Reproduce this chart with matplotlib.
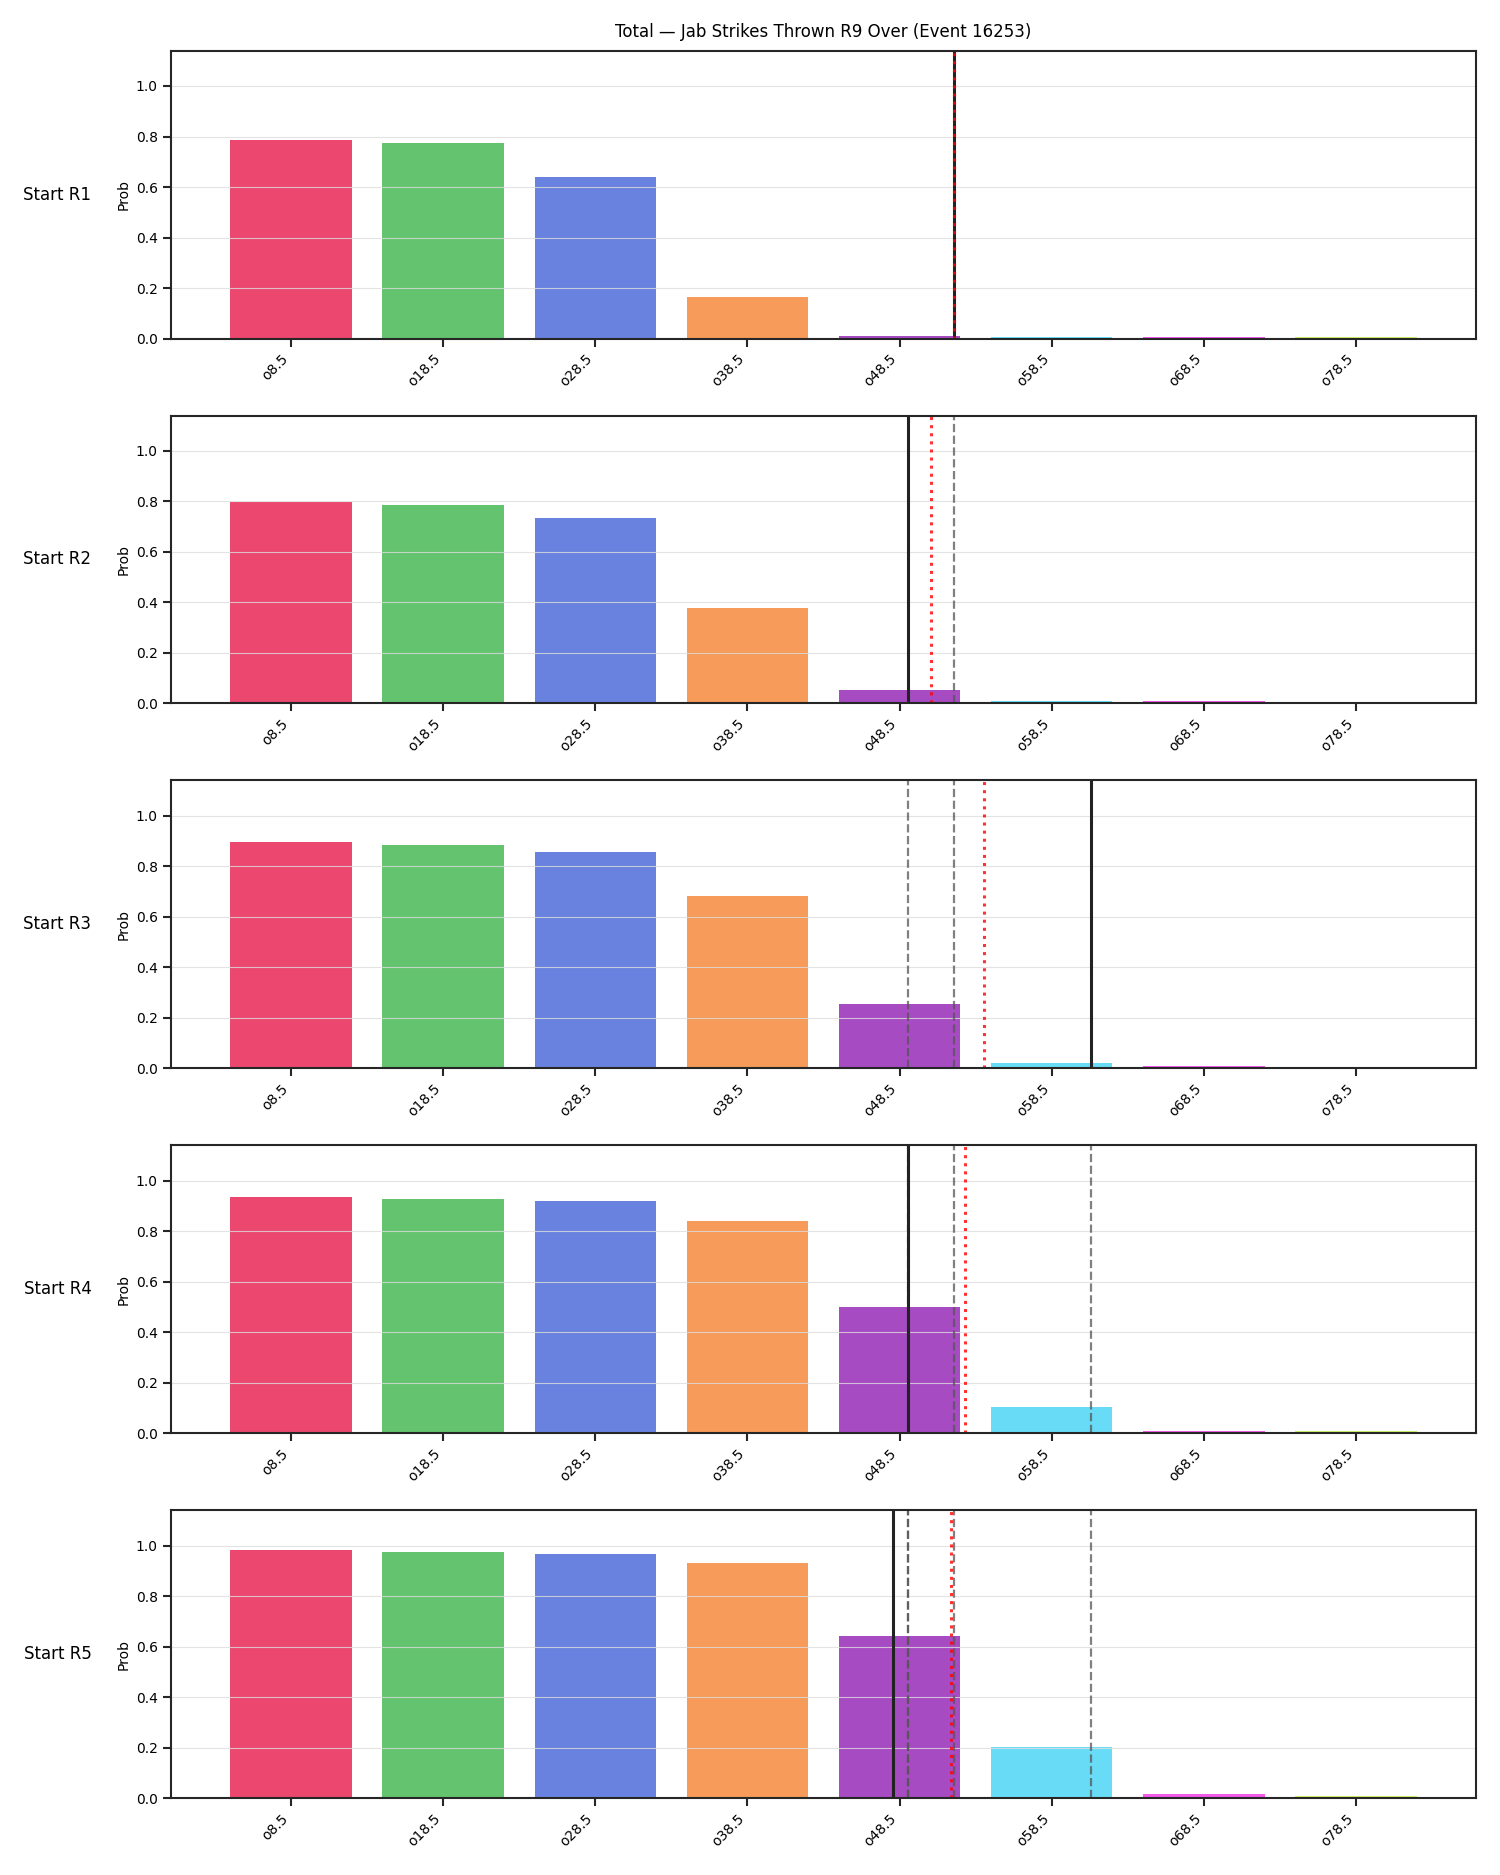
import matplotlib.pyplot as plt
import numpy as np

lines_labels = ["o8.5", "o18.5", "o28.5", "o38.5", "o48.5", "o58.5", "o68.5", "o78.5"]
bar_colors = ["#e6194b", "#3cb44b", "#4363d8", "#f58231",
              "#911eb4", "#42d4f4", "#f032e6", "#bfef45"]
row_names = ["Start R1", "Start R2", "Start R3", "Start R4", "Start R5"]

prob_r1 = [0.787, 0.773, 0.640, 0.166, 0.009, 0.008, 0.008, 0.007]
prob_r2 = [0.796, 0.787, 0.735, 0.379, 0.055, 0.008, 0.008, 0.007]
prob_r3 = [0.896, 0.886, 0.858, 0.682, 0.256, 0.022, 0.008, 0.007]
prob_r4 = [0.934, 0.929, 0.919, 0.839, 0.499, 0.103, 0.008, 0.007]
prob_r5 = [0.981, 0.976, 0.967, 0.929, 0.641, 0.201, 0.016, 0.007]
probs = [prob_r1, prob_r2, prob_r3, prob_r4, prob_r5]

# position of the actual line (solid) and running average (red dotted), in category units
actual_pos = [4.357, 4.055, 5.259, 4.055, 3.956]
avg_pos = [4.357, 4.206, 4.555, 4.430, 4.340]

title = "Total \u2014 Jab Strikes Thrown R9 Over (Event 16253)"

fig, axes = plt.subplots(5, 1, figsize=(15, 18.75), dpi=100)
fig.subplots_adjust(left=0.114, right=0.984, top=0.973, bottom=0.041, hspace=0.267)

x = np.arange(len(lines_labels))
for i, ax in enumerate(axes):
    ax.bar(x, probs[i], width=0.8, color=bar_colors, alpha=0.8, linewidth=0)
    ax.set_ylim(0, 1.14)
    ax.set_xticks(x)
    ax.set_xticklabels(lines_labels, rotation=45, ha="right")
    ax.set_ylabel("Prob")
    ax.grid(axis="y", color="#dddddd", alpha=0.8, linewidth=0.8)
    for spine in ax.spines.values():
        spine.set_color("#262626")
        spine.set_linewidth(1.5)
    ax.tick_params(length=6, width=1.5, color="#262626", labelsize=10)

    # previous rounds' actual positions
    for j in range(i):
        ax.axvline(actual_pos[j], color="#555555", linestyle="--", linewidth=1.6, alpha=0.75)
    ax.axvline(actual_pos[i], color="#222222", linewidth=2.2)
    ax.axvline(avg_pos[i], color="red", linestyle=":", linewidth=2.2, alpha=0.8)

    ax.text(-0.061, 0.5, row_names[i], transform=ax.transAxes,
            ha="right", va="center", fontsize=12)

axes[0].set_title(title, fontsize=12, pad=9.5)

fig.savefig("out.png", dpi=100)
